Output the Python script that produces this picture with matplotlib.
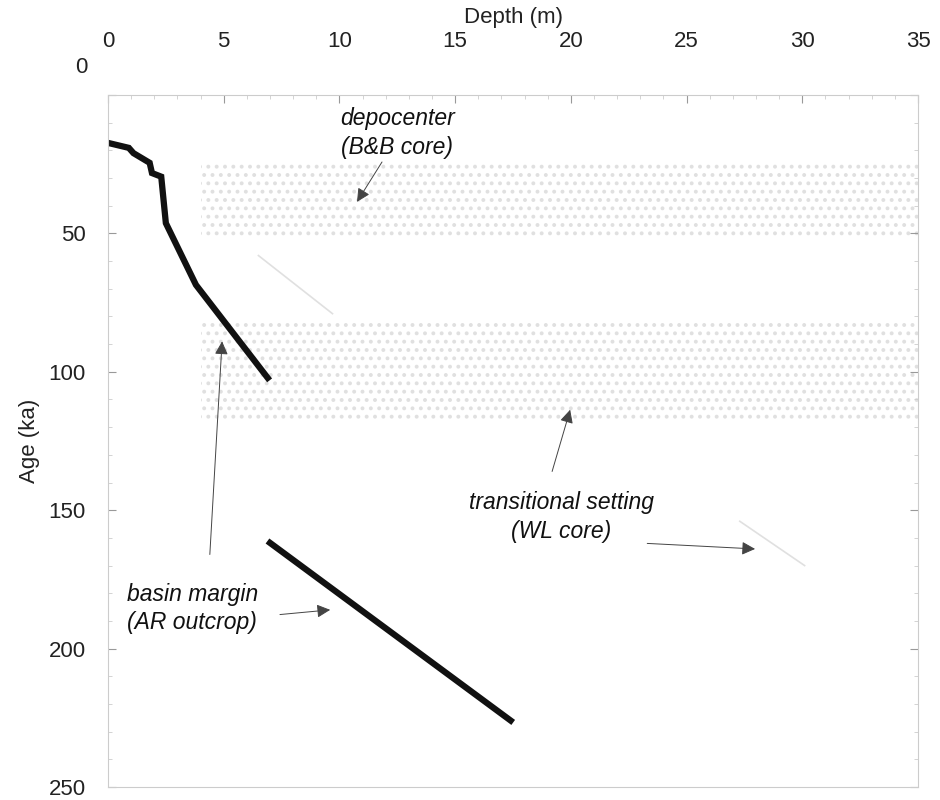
import matplotlib
matplotlib.use("Agg")
import matplotlib.pyplot as plt
import numpy as np

plt.rcParams['font.family'] = ['Liberation Sans', 'DejaVu Sans']
plt.rcParams['hatch.linewidth'] = 1.6

# --- data -------------------------------------------------------------
ar_depth_1 = [0.0, 0.9, 1.1, 1.8, 1.9, 2.3, 2.5, 3.8, 6.9]
ar_age_1 = [17.3, 19.1, 21.0, 24.5, 28.2, 29.5, 46.3, 68.6, 102.2]
ar_depth_2 = [7.0, 17.4]
ar_age_2 = [161.8, 226.0]

bb_depth = [6.5, 9.7]          # faint depocenter trace
bb_age = [58.0, 79.0]
wl_depth = [27.3, 30.1]        # faint transitional trace
wl_age = [154.0, 170.0]

band_top = [24.0, 82.0]        # stippled age bands
band_bottom = [51.0, 117.0]
band_start = [4.0, 4.0]
band_end = [35.0, 35.0]

x_ticks = [0, 5, 10, 15, 20, 25, 30, 35]
y_ticks = [0, 50, 100, 150, 200, 250]

# --- figure -----------------------------------------------------------
fig = plt.figure(figsize=(9.4, 8.0), dpi=100)
ax = fig.add_axes([108/940, 1-787/800, (918-108)/940, (787-95)/800])

for t, b, s, e in zip(band_top, band_bottom, band_start, band_end):
    ax.fill_betweenx([t, b], s, e, facecolor='none', edgecolor='#e0e0e0',
                     hatch='..', linewidth=0)

ax.plot(bb_depth, bb_age, color='#e0e0e0', lw=1.2)
ax.plot(wl_depth, wl_age, color='#e0e0e0', lw=1.2)
ax.plot(ar_depth_1, ar_age_1, color='#111111', lw=4.5, solid_joinstyle='miter')
ax.plot(ar_depth_2, ar_age_2, color='#111111', lw=4.5)

ax.set_xlim(0, 35)
ax.set_ylim(250, 0)
ax.xaxis.tick_top()
ax.xaxis.set_label_position('top')
ax.set_xticks(x_ticks)
ax.set_yticks(y_ticks)
ax.set_yticklabels([''] + [str(v) for v in y_ticks[1:]])
ax.set_xticks(np.arange(0, 35.1, 1), minor=True)
ax.set_yticks(np.arange(0, 250.1, 10), minor=True)
ax.tick_params(axis='x', which='major', direction='in', length=6, color='#999999',
               pad=31, labelsize=16, labelcolor='#222222')
ax.tick_params(axis='y', which='major', direction='in', length=6, color='#999999',
               pad=16, labelsize=16, labelcolor='#222222', right=True)
ax.tick_params(which='minor', direction='in', length=3, color='#cccccc',
               top=True, right=True, left=True)
ax.text(-0.025, 1.04, '0', transform=ax.transAxes, ha='right', va='center',
        fontsize=16, color='#222222')

for sp in ax.spines.values():
    sp.set_color('#cccccc')
    sp.set_linewidth(0.8)

ax.set_xlabel('Depth (m)', fontsize=16, labelpad=6, color='#222222')
ax.set_ylabel('Age (ka)', fontsize=16, labelpad=6, color='#222222')

arrow = dict(arrowstyle='-|>', color='#444444', lw=0.7, mutation_scale=20,
             shrinkA=0, shrinkB=0)
txt = dict(fontsize=16.5, style='italic', color='#111111', linespacing=1.3)

ax.annotate('', xy=(10.76, 38.6), xytext=(11.84, 24.2), arrowprops=arrow)
ax.text(12.5, 13.7, 'depocenter\n(B&B core)', ha='center', va='center', **txt)

ax.annotate('', xy=(19.97, 113.7), xytext=(19.19, 136.0), arrowprops=arrow)
ax.annotate('', xy=(27.96, 164.0), xytext=(23.3, 162.0), arrowprops=arrow)
ax.text(19.6, 152.5, 'transitional setting\n(WL core)', ha='center', va='center', **txt)

ax.annotate('', xy=(4.93, 89.0), xytext=(4.4, 166.0), arrowprops=arrow)
ax.annotate('', xy=(9.6, 186.0), xytext=(7.43, 187.7), arrowprops=arrow)
ax.text(0.82, 185.5, 'basin margin\n(AR outcrop)', ha='left', va='center', **txt)

fig.savefig('out.png', dpi=100)
